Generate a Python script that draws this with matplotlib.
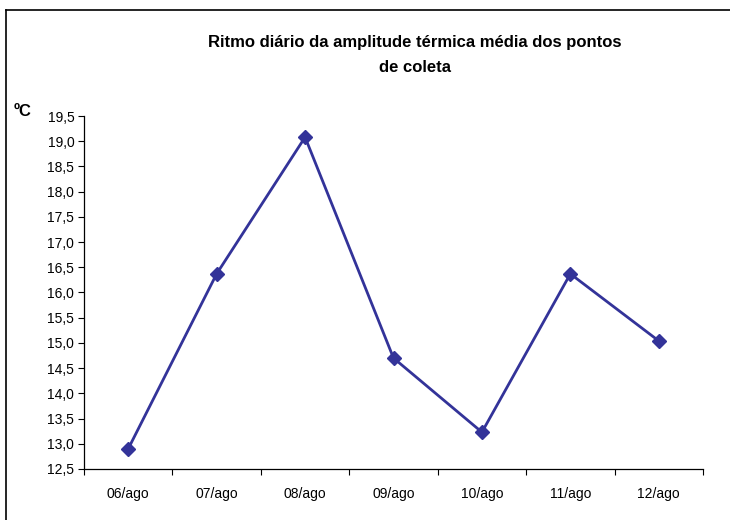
import matplotlib
matplotlib.use("Agg")
import matplotlib.pyplot as plt
from matplotlib.lines import Line2D

plt.rcParams['font.family'] = ['Liberation Sans', 'DejaVu Sans']

categories = ["06/ago", "07/ago", "08/ago", "09/ago", "10/ago", "11/ago", "12/ago"]
values = [12.90, 16.37, 19.08, 14.70, 13.23, 16.37, 15.04]
yticks = [12.5, 13.0, 13.5, 14.0, 14.5, 15.0, 15.5, 16.0, 16.5, 17.0, 17.5, 18.0, 18.5, 19.0, 19.5]

W, H = 730, 520
fig = plt.figure(figsize=(W / 100, H / 100), dpi=100)
ax = fig.add_axes([84 / W, 1 - 469 / H, (703 - 84) / W, (469 - 116) / H])

x = list(range(len(categories)))
ax.plot(x, values, color='#333399', linewidth=2.0, marker='D', markersize=7,
        markerfacecolor='#333399', markeredgecolor='#333399')

ax.set_xlim(-0.5, len(categories) - 0.5)
ax.set_ylim(12.5, 19.5)
ax.set_yticks(yticks)
ax.set_yticklabels([f"{v:.1f}".replace('.', ',') for v in yticks], fontsize=10)
ax.set_xticks(x)
ax.set_xticklabels(categories, fontsize=10)
ax.set_xticks([i - 0.5 for i in range(len(categories) + 1)], minor=True)
ax.tick_params(axis='x', which='major', length=0, pad=13)
ax.tick_params(axis='x', which='minor', length=4, width=0.8, direction='out')
ax.tick_params(axis='y', length=4, width=0.8, direction='out', pad=3)

for s in ['top', 'right']:
    ax.spines[s].set_visible(False)
for s in ['left', 'bottom']:
    ax.spines[s].set_linewidth(0.9)

fig.text(415 / W, 1 - 42 / H, "Ritmo diário da amplitude térmica média dos pontos",
         ha='center', va='center', fontsize=12, fontweight='bold')
fig.text(415 / W, 1 - 67 / H, "de coleta",
         ha='center', va='center', fontsize=12, fontweight='bold')
fig.text(14 / W, 1 - 111 / H, "ºC", ha='left', va='center', fontsize=12, fontweight='bold')

# partial frame (top and left border)
fig.add_artist(Line2D([6 / W, 1], [1 - 10 / H, 1 - 10 / H], transform=fig.transFigure,
                      color='black', linewidth=1.2))
fig.add_artist(Line2D([6 / W, 6 / W], [0, 1 - 10 / H], transform=fig.transFigure,
                      color='black', linewidth=1.2))

fig.savefig("out.png", dpi=100)
